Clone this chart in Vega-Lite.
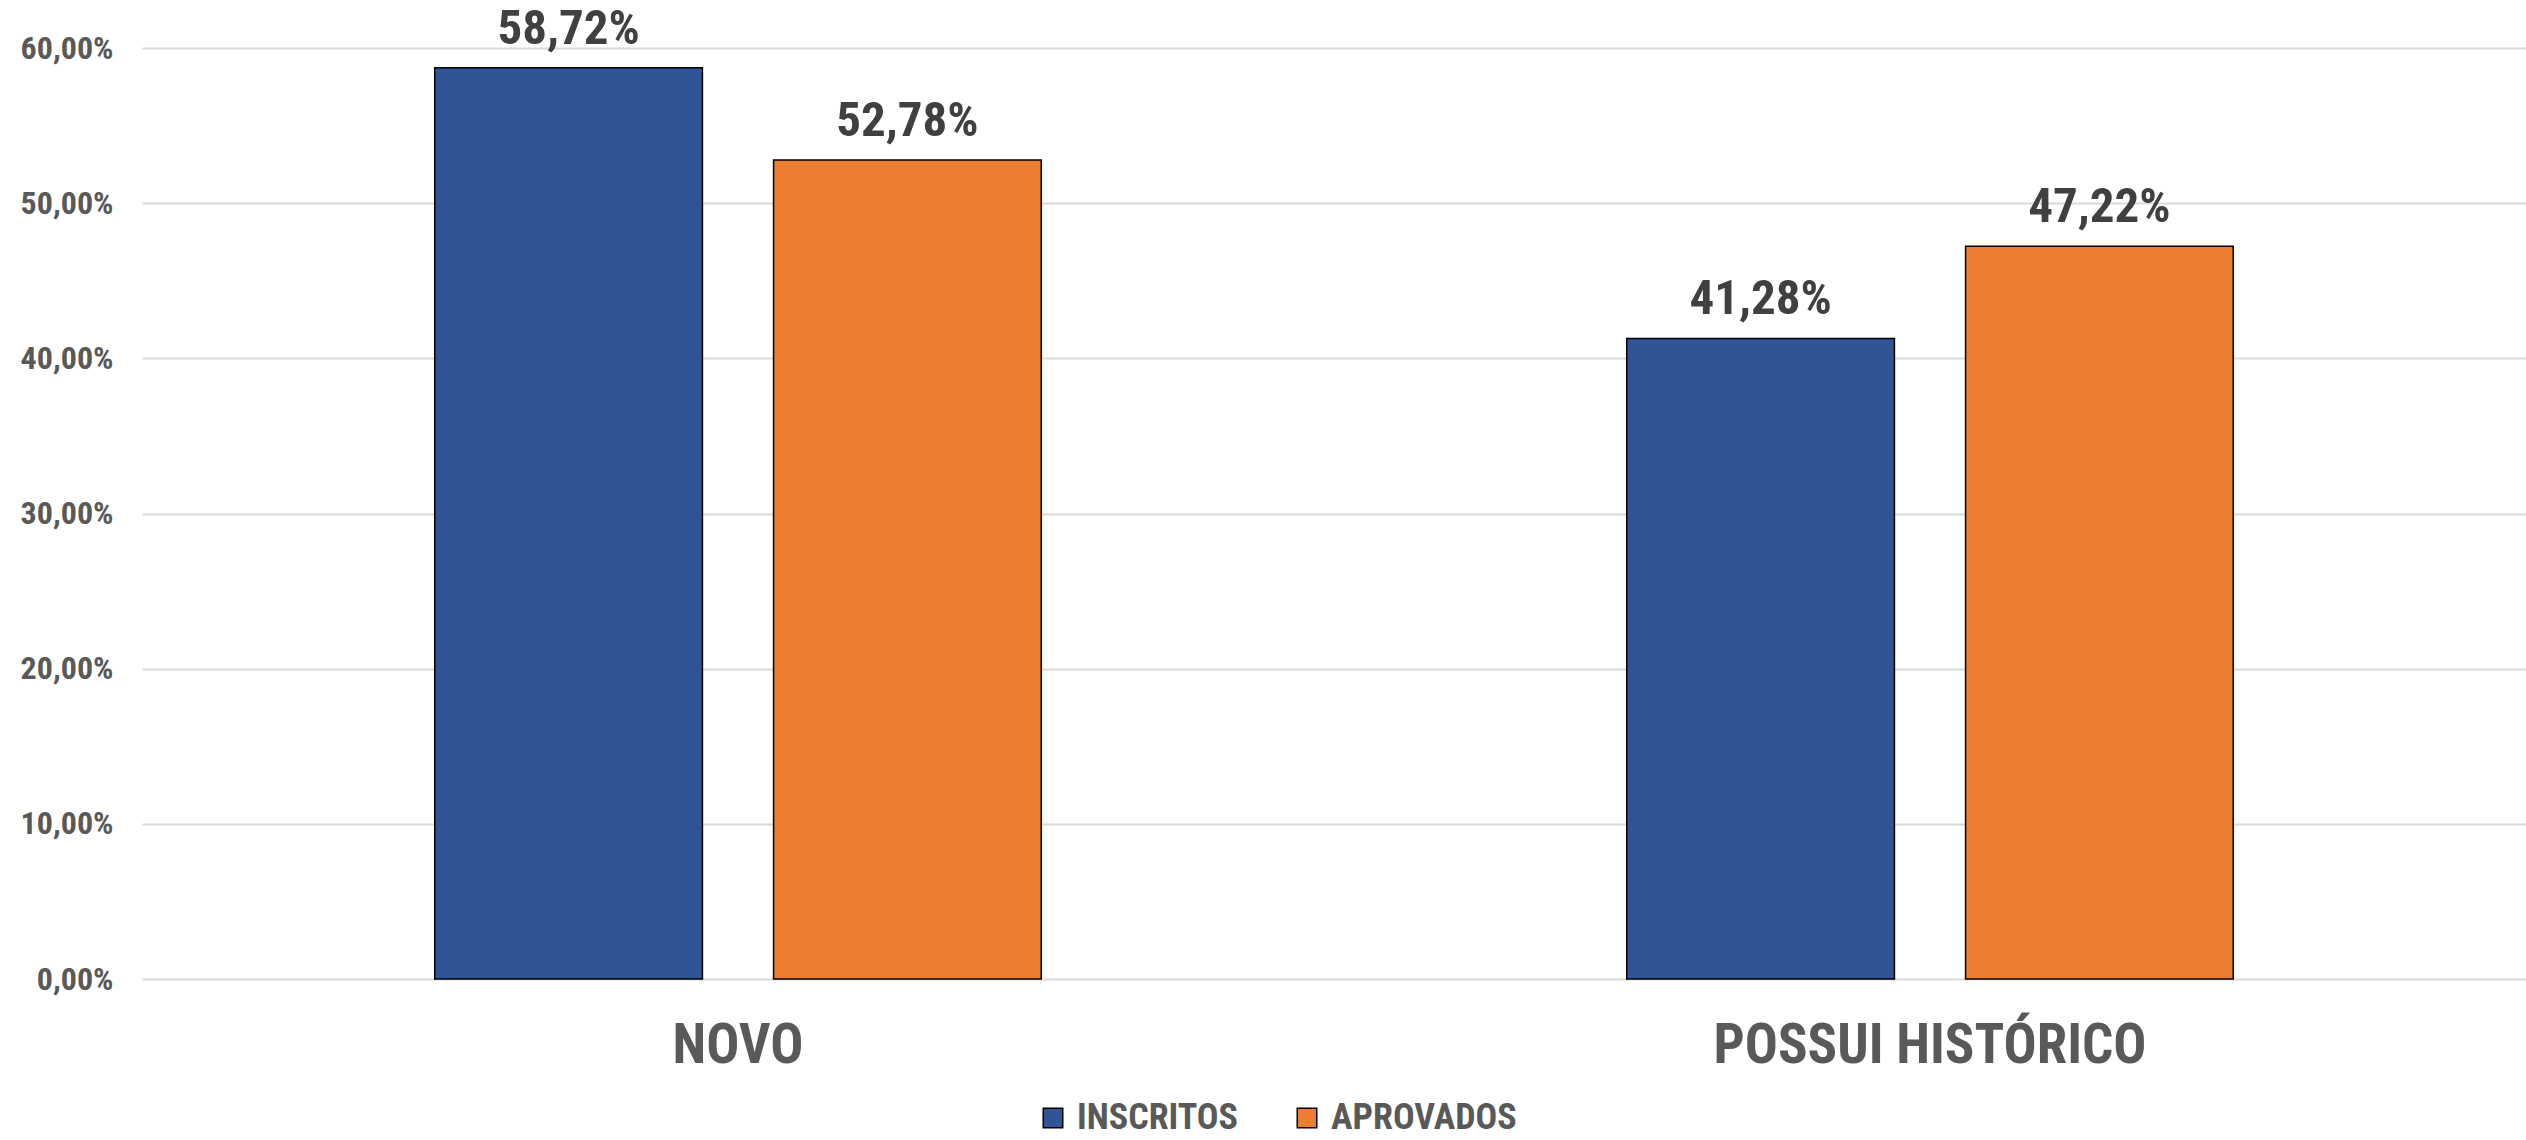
{
  "$schema": "https://vega.github.io/schema/vega-lite/v6.json",
  "autosize": "none",
  "padding": {"left": 142, "top": 48, "right": 0, "bottom": 161},
  "width": 2384,
  "height": 931,
  "background": "white",
  "config": {
    "locale": {"number": {"decimal": ",", "thousands": ".", "grouping": [3], "currency": ["R$", ""]}},
    "font": "Roboto Condensed, Liberation Sans Narrow, Roboto, sans-serif",
    "view": {"stroke": null}
  },
  "data": {
    "values": [
      {"categoria": "NOVO", "serie": "INSCRITOS", "valor": 0.5872},
      {"categoria": "NOVO", "serie": "APROVADOS", "valor": 0.5278},
      {"categoria": "POSSUI HISTÓRICO", "serie": "INSCRITOS", "valor": 0.4128},
      {"categoria": "POSSUI HISTÓRICO", "serie": "APROVADOS", "valor": 0.4722}
    ]
  },
  "encoding": {
    "x": {
      "field": "categoria", "type": "nominal", "sort": ["NOVO", "POSSUI HISTÓRICO"],
      "scale": {"paddingInner": 0, "paddingOuter": 0},
      "axis": {"title": null, "labelAngle": 0, "domain": false, "ticks": false, "labelPadding": 40,
               "labelLimit": 0,
               "labelFont": "Roboto Condensed, Liberation Sans Narrow, Roboto, sans-serif",
               "labelFontSize": 55, "labelFontWeight": "bold", "labelColor": "#595959"}
    },
    "xOffset": {
      "field": "serie", "type": "nominal", "sort": ["INSCRITOS", "APROVADOS"],
      "scale": {"paddingInner": 0.21, "paddingOuter": 0.864}
    },
    "y": {
      "field": "valor", "type": "quantitative",
      "scale": {"domain": [0, 0.6], "nice": false},
      "axis": {"title": null, "values": [0, 0.1, 0.2, 0.3, 0.4, 0.5, 0.6],
               "domain": false, "ticks": false, "labelPadding": 29, "labelOverlap": false,
               "labelExpr": "replace(format(datum.value, '.2%'), '.', ',')",
               "labelFont": "Roboto Condensed, Liberation Sans Narrow, Roboto, sans-serif",
               "labelFontSize": 32, "labelFontWeight": "bold", "labelColor": "#595959",
               "gridColor": "#d9d9d9", "gridWidth": 2}
    }
  },
  "layer": [
    {
      "mark": {"type": "bar", "stroke": "black", "strokeWidth": 1.5},
      "encoding": {
        "color": {
          "field": "serie", "type": "nominal", "sort": ["INSCRITOS", "APROVADOS"],
          "scale": {"domain": ["INSCRITOS", "APROVADOS"], "range": ["#2F5597", "#ED7D31"]},
          "legend": {
            "title": null, "orient": "none", "direction": "horizontal",
            "legendX": 893, "legendY": 1052, "labelLimit": 0,
            "symbolType": "square", "symbolSize": 380, "symbolStrokeColor": "black", "symbolStrokeWidth": 1.5,
            "labelFont": "Roboto Condensed, Liberation Sans Narrow, Roboto, sans-serif",
            "labelFontSize": 36, "labelFontWeight": "bold", "labelColor": "#595959",
            "labelOffset": 6, "columnPadding": 50
          }
        }
      }
    },
    {
      "mark": {"type": "text", "baseline": "alphabetic", "dy": -24,
               "font": "Roboto Condensed, Liberation Sans Narrow, Roboto, sans-serif",
               "fontSize": 49, "fontWeight": "bold", "color": "#404040"},
      "encoding": {
        "text": {"field": "valor", "type": "quantitative", "format": ".2%"}
      }
    }
  ]
}
